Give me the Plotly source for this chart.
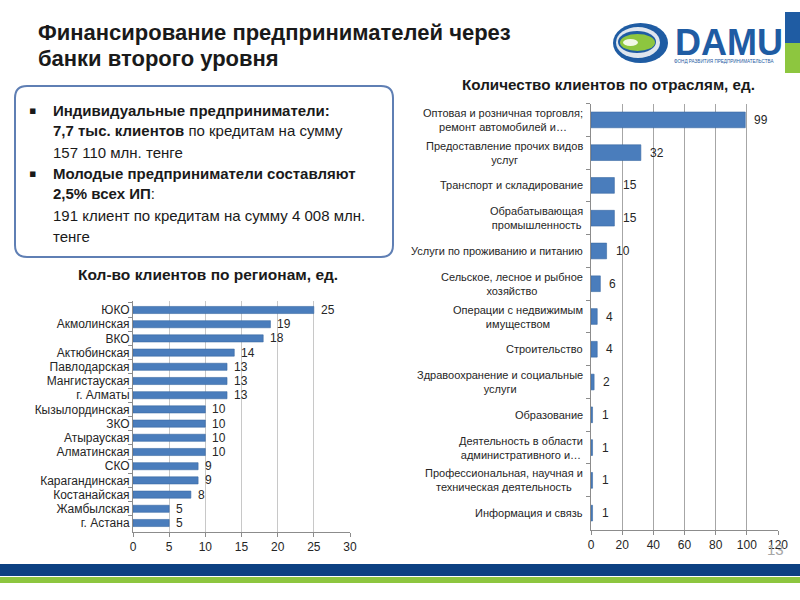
import plotly.graph_objects as go

# ---------------- data ----------------
regions = ["ЮКО", "Акмолинская", "ВКО", "Актюбинская", "Павлодарская", "Мангистауская",
           "г. Алматы", "Кызылординская", "ЗКО", "Атырауская", "Алматинская", "СКО",
           "Карагандинская", "Костанайская", "Жамбылская", "г. Астана"]
region_values = [25, 19, 18, 14, 13, 13, 13, 10, 10, 10, 10, 9, 9, 8, 5, 5]

sectors = ["Оптовая и розничная торговля;<br>ремонт автомобилей и…",
           "Предоставление прочих видов<br>услуг",
           "Транспорт и складирование",
           "Обрабатывающая<br>промышленность",
           "Услуги по проживанию и питанию",
           "Сельское, лесное и рыбное<br>хозяйство",
           "Операции с недвижимым<br>имуществом",
           "Строительство",
           "Здравоохранение и социальные<br>услуги",
           "Образование",
           "Деятельность в области<br>административного и…",
           "Профессиональная, научная и<br>техническая деятельность",
           "Информация и связь"]
sector_values = [99, 32, 15, 15, 10, 6, 4, 4, 2, 1, 1, 1, 1]

left_ticks = [0, 5, 10, 15, 20, 25, 30]
right_ticks = [0, 20, 40, 60, 80, 100, 120]

title_lines = ["Финансирование предпринимателей через", "банки второго уровня"]
box_lines = [
    ("▪", "<b>Индивидуальные предприниматели:</b>"),
    ("", "<b>7,7 тыс. клиентов</b> по кредитам на сумму"),
    ("", "157 110 млн. тенге"),
    ("▪", "<b>Молодые предприниматели составляют</b>"),
    ("", "<b>2,5% всех ИП</b>:"),
    ("", "191 клиент по кредитам на сумму 4 008 млн."),
    ("", "тенге"),
]
left_title = "Кол-во клиентов по регионам, ед."
right_title = "Количество клиентов по отраслям, ед."
page_number = "13"

# ---------------- styles ----------------
W, H = 800, 600
BAR = "#4a7dbc"
BAR_LINE = "#3b6aa3"
TXT = "#262626"
FONT = "Liberation Sans, Arial, sans-serif"
NARROW = "Liberation Sans Narrow, Arial Narrow, Liberation Sans, sans-serif"
DBLUE = "#0d4182"
GREEN = "#8dc63f"


def px(x):
    return x / W


def py(y):
    return 1 - y / H


fig = go.Figure()

fig.add_trace(go.Bar(
    x=region_values, y=regions, orientation="h",
    marker=dict(color=BAR, line=dict(color=BAR_LINE, width=0.6)),
    width=0.5, xaxis="x", yaxis="y", hoverinfo="skip", showlegend=False))

fig.add_trace(go.Bar(
    x=sector_values, y=sectors, orientation="h",
    marker=dict(color=BAR, line=dict(color=BAR_LINE, width=0.6)),
    width=0.48, xaxis="x2", yaxis="y2", hoverinfo="skip", showlegend=False))

axis_common = dict(showline=True, linecolor="#8c8c8c", linewidth=1, zeroline=False,
                   ticks="outside", ticklen=4, tickcolor="#8c8c8c",
                   tickfont=dict(family=FONT, size=12, color=TXT), fixedrange=True)

fig.update_layout(
    width=W, height=H, autosize=False,
    margin=dict(l=0, r=0, t=0, b=0, pad=0, autoexpand=False),
    paper_bgcolor="white", plot_bgcolor="white",
    font=dict(family=FONT, color=TXT),
    xaxis=dict(domain=[px(133), px(350)], range=[0, 30], tickvals=left_ticks,
               showgrid=True, gridcolor="#c8c8c8", gridwidth=1, anchor="y", **axis_common),
    yaxis=dict(domain=[py(532), py(301)], autorange="reversed", type="category",
               tickson="boundaries", showgrid=False, anchor="x", **axis_common),
    xaxis2=dict(domain=[px(591), px(778)], range=[0, 120], tickvals=right_ticks,
                showgrid=True, gridcolor="#a6a6a6", gridwidth=1, anchor="y2", **axis_common),
    yaxis2=dict(domain=[py(529.5), py(103.5)], autorange="reversed", type="category",
                tickson="boundaries", showgrid=False, showticklabels=False, anchor="x2",
                **axis_common),
)

annotations = []

# value labels
for r, v in zip(regions, region_values):
    annotations.append(dict(x=v, y=r, xref="x", yref="y", text=str(v), showarrow=False,
                            xanchor="left", xshift=5, font=dict(family=FONT, size=12, color=TXT)))
for s, v in zip(sectors, sector_values):
    annotations.append(dict(x=v, y=s, xref="x2", yref="y2", text=str(v), showarrow=False,
                            xanchor="left", xshift=7, font=dict(family=FONT, size=12, color=TXT)))
# sector category labels (centered multi-line, right anchored)
for s in sectors:
    annotations.append(dict(x=0, y=s, xref="x2", yref="y2", text=s, showarrow=False,
                            xanchor="right", xshift=-6, align="center",
                            font=dict(family=FONT, size=11, color=TXT)))

# slide title
for i, t in enumerate(title_lines):
    annotations.append(dict(x=px(36), y=py(32 + 26 * i), xref="paper", yref="paper", text="<b>" + t + "</b>",
                            showarrow=False, xanchor="left", yanchor="middle",
                            font=dict(family=NARROW, size=22, color="#1a1a1a")))

# text box lines
for i, (b, t) in enumerate(box_lines):
    yy = py(110 + 21 * i)
    if b:
        annotations.append(dict(x=px(27), y=yy, xref="paper", yref="paper", text=b, showarrow=False,
                                xanchor="left", yanchor="middle", font=dict(family="DejaVu Sans", size=11, color="#1a1a1a")))
    annotations.append(dict(x=px(51), y=yy, xref="paper", yref="paper", text=t, showarrow=False,
                            xanchor="left", yanchor="middle", font=dict(family=FONT, size=15, color="#1a1a1a")))

# chart titles
annotations.append(dict(x=px(208), y=py(275), xref="paper", yref="paper", text="<b>" + left_title + "</b>",
                        showarrow=False, xanchor="center", yanchor="middle",
                        font=dict(family=FONT, size=15.5, color="#1a1a1a")))
annotations.append(dict(x=px(608), y=py(85), xref="paper", yref="paper", text="<b>" + right_title + "</b>",
                        showarrow=False, xanchor="center", yanchor="middle",
                        font=dict(family=FONT, size=15.2, color="#1a1a1a")))

# page number
annotations.append(dict(x=px(775), y=py(549), xref="paper", yref="paper", text=page_number,
                        showarrow=False, xanchor="center", yanchor="middle",
                        font=dict(family=FONT, size=15, color="#a6a6a6")))

# logo text
annotations.append(dict(x=px(673), y=py(43), xref="paper", yref="paper", text="<b>DAMU</b>",
                        showarrow=False, xanchor="left", yanchor="middle",
                        font=dict(family=NARROW, size=36, color="#1f5ca3")))
annotations.append(dict(x=px(672), y=py(61), xref="paper", yref="paper",
                        text="ФОНД РАЗВИТИЯ ПРЕДПРИНИМАТЕЛЬСТВА",
                        showarrow=False, xanchor="left", yanchor="middle",
                        font=dict(family=NARROW, size=4.6, color="#1f5ca3")))

shapes = []


def rect(x0, y0, x1, y1, color):
    return dict(type="rect", xref="paper", yref="paper", x0=px(x0), x1=px(x1), y0=py(y1), y1=py(y0),
                fillcolor=color, line=dict(width=0), layer="above")


def ellipse(x0, y0, x1, y1, color):
    return dict(type="circle", xref="paper", yref="paper", x0=px(x0), x1=px(x1), y0=py(y1), y1=py(y0),
                fillcolor=color, line=dict(width=0), layer="above")


# rounded text box
x0, y0, x1, y1, r = 15, 86, 393, 257, 12
X = lambda v: px(v)
Y = lambda v: py(v)
path = (f"M {X(x0 + r)},{Y(y0)} L {X(x1 - r)},{Y(y0)} Q {X(x1)},{Y(y0)} {X(x1)},{Y(y0 + r)} "
        f"L {X(x1)},{Y(y1 - r)} Q {X(x1)},{Y(y1)} {X(x1 - r)},{Y(y1)} "
        f"L {X(x0 + r)},{Y(y1)} Q {X(x0)},{Y(y1)} {X(x0)},{Y(y1 - r)} "
        f"L {X(x0)},{Y(y0 + r)} Q {X(x0)},{Y(y0)} {X(x0 + r)},{Y(y0)} Z")
shapes.append(dict(type="path", xref="paper", yref="paper", path=path,
                   fillcolor="rgba(0,0,0,0)", line=dict(color="#5f7fb4", width=2), layer="below"))

# bottom stripes
shapes.append(rect(0, 564, 800, 576, DBLUE))
shapes.append(rect(0, 577, 800, 583, GREEN))

# logo side bar
shapes.append(rect(785, 12, 800, 43, "#1f5ca3"))
shapes.append(rect(785, 43, 800, 73, GREEN))

# logo emblem
shapes.append(ellipse(613, 23, 668, 63, "#1f5ca3"))
shapes.append(ellipse(616, 27, 660, 58, "#dfe6ee"))
shapes.append(ellipse(618, 31, 656, 53, "#1f5ca3"))
shapes.append(ellipse(620, 34, 655, 51, GREEN))
shapes.append(ellipse(623, 39, 638, 46, "#f2f8e6"))

fig.update_layout(annotations=annotations, shapes=shapes)

fig.write_html(
    "out.html",
    config={"displayModeBar": False, "responsive": False, "staticPlot": True},
    post_script=("document.body.style.margin='0px';document.body.style.padding='0px';"
                 "document.body.style.overflow='hidden';"
                 "document.documentElement.style.overflow='hidden';"),
)
